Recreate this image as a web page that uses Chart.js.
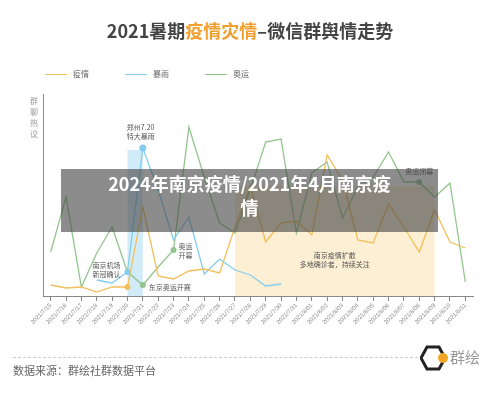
<!DOCTYPE html>
<html><head><meta charset="utf-8">
<script src="https://cdn.jsdelivr.net/npm/chart.js@4"></script>
<style>
body{margin:0;width:500px;height:401px;background:#fff;font-family:"Noto Sans CJK SC",sans-serif;position:relative;overflow:hidden}
#c{position:absolute;left:0;top:0}
.t{position:absolute;white-space:nowrap}
.lg{position:absolute;top:69px;font-size:8px;color:#666;line-height:10px}
.lg i{display:inline-block;width:22px;height:0;border-top:1.5px solid;vertical-align:middle;margin-right:6px}
</style></head><body>
<canvas id="c" width="500" height="401"></canvas>
<div class="t" style="left:0;width:500px;top:17px;text-align:center;font-size:18px;font-weight:bold;color:#444">2021暑期<span style="color:#f0a030">疫情灾情</span>–微信群舆情走势</div>
<div id="legend"></div>
<div class="t" style="left:30px;top:95px;font-size:8px;line-height:11px;color:#999;width:10px;white-space:normal">群聊热议</div>
<div class="t" style="left:61px;top:169px;width:377px;height:63px;background:rgba(70,70,70,0.62)"></div>
<div class="t" style="left:61px;top:171px;width:377px;text-align:center;white-space:normal;font-size:18px;line-height:24px;font-weight:bold;color:#fff;padding:0 40px;box-sizing:border-box">2024年南京疫情/2021年4月南京疫情</div>
<div style="position:absolute;left:13px;top:357px;width:405px;border-top:1px dashed #ccc"></div>
<div class="t" style="left:13px;top:362px;font-size:11px;color:#666">数据来源：群绘社群数据平台</div>
<svg style="position:absolute;left:420px;top:345px" width="30" height="26"><polygon points="7,2 19,2 25,13 19,24 7,24 1,13" fill="none" stroke="#222" stroke-width="3"/><circle cx="23" cy="13" r="5" fill="#f5a623"/></svg>
<div class="t" style="left:450px;top:346px;font-size:15px;color:#999">群绘</div>
<script>
const categories=["2021/7/15","2021/7/16","2021/7/17","2021/7/18","2021/7/19","2021/7/20","2021/7/21","2021/7/22","2021/7/23","2021/7/24","2021/7/25","2021/7/26","2021/7/27","2021/7/28","2021/7/29","2021/7/30","2021/7/31","2021/8/01","2021/8/02","2021/8/03","2021/8/04","2021/8/05","2021/8/06","2021/8/07","2021/8/08","2021/8/09","2021/8/10","2021/8/11"];
const epidemic=[11,8,9,4,9,9,89,20,17,25,27,23,69,110,54,73,75,61,141,116,56,53,92,69,44,86,54,48];
const rainstorm=[null,null,null,16,13,24,148,106,56,79,22,37,26,21,10,12,null,null,null,null,null,null,null,null,null,null,null,null];
const olympics=[44,99,9,43,69,24,11,29,46,169,119,73,63,106,154,157,63,123,134,78,109,119,144,114,114,99,113,14];
const YC='#f2bf5a',BC='#84cdec',GC='#93c48e';
const bands=[{from:5,to:6,top:146,color:'rgba(190,228,245,0.7)'},{from:12,to:25,top:110,color:'rgba(253,236,203,0.85)'}];
const marks=[{ds:0,i:5},{ds:1,i:5},{ds:1,i:6,r:3.5},{ds:2,i:6},{ds:2,i:8},{ds:2,i:24}];
const notes=[
 {i:6,dx:-16,v:169,lines:["郑州7.20","特大暴雨"],a:'left'},
 {i:5,dx:-35,v:31,lines:["南京机场","新冠确认"],a:'left'},
 {i:8,dx:5,v:50,lines:["奥运","开幕"],a:'left'},
 {i:6,dx:6,v:9,lines:["东京奥运开赛"],a:'left'},
 {i:18.5,dx:0,v:41,lines:["南京疫情扩散","多地确诊者，持续关注"],a:'center'},
 {i:24,dx:0,v:125,lines:["奥运闭幕"],a:'center'}
];
const deco={id:'deco',
 beforeDatasetsDraw(c){const x=c.scales.x,y=c.scales.y,ca=c.chartArea,g=c.ctx;
  bands.forEach(b=>{const t=y.getPixelForValue(b.top);g.fillStyle=b.color;g.fillRect(x.getPixelForValue(b.from),t,x.getPixelForValue(b.to)-x.getPixelForValue(b.from),ca.bottom-t);});},
 afterDatasetsDraw(c){const x=c.scales.x,y=c.scales.y,g=c.ctx;
  marks.forEach(m=>{const d=c.data.datasets[m.ds];g.beginPath();g.arc(x.getPixelForValue(m.i),y.getPixelForValue(d.data[m.i]),m.r||3,0,7);g.fillStyle=d.borderColor;g.fill();});
  g.fillStyle='#555';g.font='7px "Noto Sans CJK SC"';g.textBaseline='middle';
  notes.forEach(n=>{g.textAlign=n.a;const px=x.getPixelForValue(Math.floor(n.i))+(n.i%1)*(x.getPixelForValue(1)-x.getPixelForValue(0))+n.dx;
   n.lines.forEach((l,k)=>g.fillText(l,px,y.getPixelForValue(n.v)+k*9));});}
};
const chart=new Chart(document.getElementById('c'),{type:'line',
 data:{labels:categories,datasets:[
  {label:'疫情',data:epidemic,borderColor:YC,backgroundColor:YC},
  {label:'暴雨',data:rainstorm,borderColor:BC,backgroundColor:BC},
  {label:'奥运',data:olympics,borderColor:GC,backgroundColor:GC}]},
 options:{responsive:false,animation:false,
  elements:{line:{borderWidth:1.3,tension:0},point:{radius:0}},
  layout:{padding:{top:94,right:27,left:26,bottom:0}},
  plugins:{tooltip:{enabled:false},legend:{display:false}},
  scales:{
   x:{offset:true,grid:{display:true,drawOnChartArea:false,tickLength:5,color:'#888'},border:{color:'#888'},
      ticks:{color:'#888',font:{size:6},minRotation:45,maxRotation:45,autoSkip:false,padding:1},
      afterFit(s){s.height=105;}},
   y:{min:0,max:202,grid:{display:false},border:{color:'#888'},ticks:{display:false},afterFit(s){s.width=17;}}
  }},
 plugins:[deco]});
const lg=document.getElementById('legend');
chart.data.datasets.forEach((d,k)=>{const e=document.createElement('div');e.className='lg';e.style.left=(45+80*k)+'px';
 e.innerHTML='<i style="border-color:'+d.borderColor+'"></i>'+d.label;lg.appendChild(e);});
</script></body></html>
